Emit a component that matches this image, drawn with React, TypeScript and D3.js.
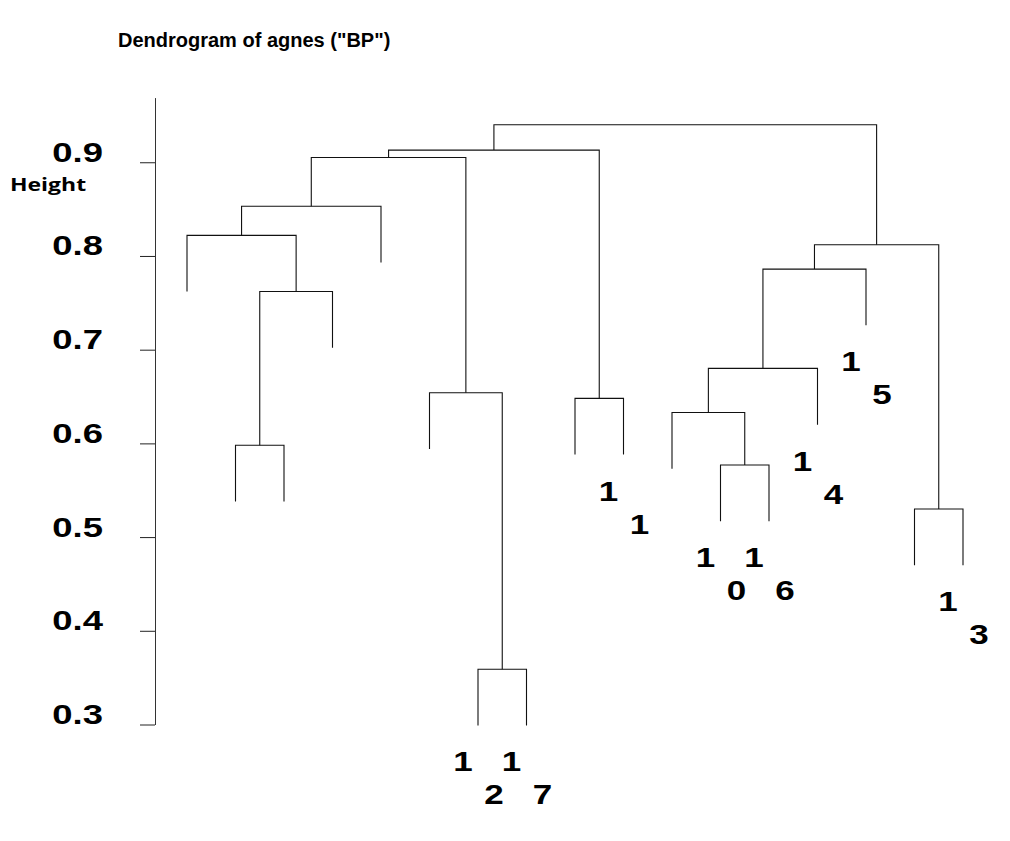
import * as d3 from 'd3';
import React, { useRef, useEffect } from 'react';

// leaves in plotting order (the single-digit labels are not shown in the original)
const leafLabels = ['', '', '', '', '', '', '12', '17', '', '11', '', '10', '16', '14', '15', '', '13'];

// R style merge table: negative = leaf (1-based, plot order), positive = earlier merge
const mergeLeft = [-7, -16, -12, -2, -11, -9, -6, 5, 4, 8, 10, -1, 12, 13, 14, 15];
const mergeRight = [-8, -17, -13, -3, 3, -10, 1, -14, -4, -15, 2, 9, -5, 7, 6, 11];
const mergeHeight = [0.359, 0.53, 0.577, 0.598, 0.633, 0.648, 0.654, 0.68, 0.762, 0.786, 0.812, 0.822, 0.853, 0.905, 0.913, 0.94];

const yTicks = [0.3, 0.4, 0.5, 0.6, 0.7, 0.8, 0.9];

const title = 'Dendrogram of agnes ("BP")';
const yTitle = 'Height';

const FONT = '"Liberation Sans", Arial, sans-serif';
const STRETCH = 1.35; // the text in the original is drawn wide

function Dendrogram() {
  const width = 1010;
  const height = 841;
  const svgRef = useRef(null);

  useEffect(() => {
    const svg = d3.select(svgRef.current);
    svg.selectAll('*').remove();

    const xScale = d3
      .scalePoint()
      .domain(d3.range(leafLabels.length))
      .range([187, 963]);

    const yScale = d3.scaleLinear().domain([0.3, 0.969]).range([724.5, 97.6]);

    const hang = 0.06;

    const leafBottom = new Array(leafLabels.length).fill(0);
    const nodes = [];

    const child = (c, h) => {
      if (c < 0) {
        const i = -c - 1;
        leafBottom[i] = h - hang;
        return { x: xScale(i), h: h - hang };
      }
      return nodes[c - 1];
    };

    const lineG = svg
      .append('g')
      .attr('fill', 'none')
      .attr('stroke', '#111')
      .attr('stroke-width', 1.1);

    mergeHeight.forEach((h, i) => {
      const a = child(mergeLeft[i], h);
      const b = child(mergeRight[i], h);
      nodes.push({ x: (a.x + b.x) / 2, h });
      const p = d3.path();
      p.moveTo(a.x, yScale(a.h));
      p.lineTo(a.x, yScale(h));
      p.lineTo(b.x, yScale(h));
      p.lineTo(b.x, yScale(b.h));
      lineG.append('path').attr('d', p.toString());
    });

    // y axis
    const yAxis = d3
      .axisLeft(yScale)
      .tickValues(yTicks)
      .tickSize(15)
      .tickSizeOuter(0)
      .tickFormat(d3.format('.1f'));

    const axisG = svg.append('g').attr('transform', 'translate(155,0)').call(yAxis);
    axisG.select('.domain').attr('stroke', '#333').attr('stroke-width', 1);
    axisG.selectAll('.tick line').attr('stroke', '#222');
    axisG
      .selectAll('.tick text')
      .attr('x', null)
      .attr('dy', null)
      .attr('transform', `translate(-52,-1) scale(${STRETCH},1)`)
      .attr('font-family', FONT)
      .attr('font-weight', 'bold')
      .attr('font-size', 27)
      .attr('fill', '#000');

    // leaf labels, digits stacked diagonally
    const labelG = svg
      .append('g')
      .attr('font-family', FONT)
      .attr('font-weight', 'bold')
      .attr('font-size', 28)
      .attr('text-anchor', 'middle')
      .attr('fill', '#000');

    leafLabels.forEach((lab, i) => {
      if (!lab) return;
      const x0 = xScale(i);
      const y0 = yScale(leafBottom[i]);
      lab.split('').forEach((ch, k) => {
        const tx = x0 - 15 + 31 * k;
        const ty = y0 + 36 + 33 * k + 10;
        labelG
          .append('text')
          .attr('transform', `translate(${tx},${ty}) scale(1.25,1)`)
          .text(ch);
      });
    });

    svg
      .append('text')
      .attr('x', 118)
      .attr('y', 47)
      .attr('font-family', FONT)
      .attr('font-weight', 'bold')
      .attr('font-size', 20)
      .text(title);

    svg
      .append('text')
      .attr('transform', `translate(10,191) scale(${STRETCH},1)`)
      .attr('font-family', '"Open Sans", sans-serif')
      .attr('font-weight', 'bold')
      .attr('font-size', 17)
      .text(yTitle);
  }, []);

  return (
    <svg
      width={width}
      height={height}
      ref={svgRef}
      style={{ position: 'absolute', left: 0, top: 0, background: '#fff' }}
    />
  );
}

export default function App() {
  return <Dendrogram />;
}
